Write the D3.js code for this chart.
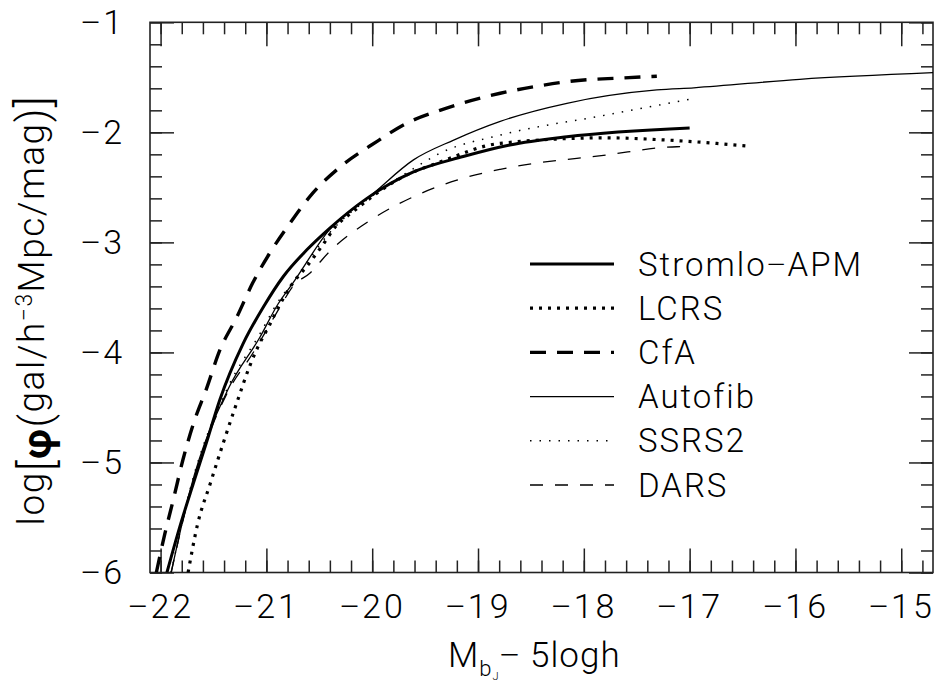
<!DOCTYPE html>
<html>
<head>
<meta charset="utf-8">
<script src="https://cdn.jsdelivr.net/npm/d3@7"></script>
<style>
  body { margin: 0; background: #fff; }
  svg text { font-family: Roboto, "DejaVu Sans", sans-serif; font-weight: 300; fill: #000; }
  .minus { font-family: "Open Sans", "Liberation Sans", sans-serif; font-weight: 300; }
</style>
</head>
<body>
<div id="chart"></div>
<script>
// luminosity functions: M_bJ - 5logh vs log phi
const stromloM   = [-21.94, -21.82, -21.69, -21.57, -21.44, -21.22, -21.03, -20.84, -20.62, -20.40, -20.05, -19.61, -19.14, -18.70, -18.16, -17.00];
const stromloPhi = [-6.00, -5.59, -5.19, -4.83, -4.43, -3.92, -3.59, -3.31, -3.07, -2.87, -2.60, -2.36, -2.22, -2.115, -2.04, -1.96];

const lcrsM   = [-21.74, -21.65, -21.53, -21.41, -21.27, -21.16, -21.08, -20.97, -20.87, -20.75, -20.62, -20.48, -20.34, -20.18, -19.74, -19.36, -18.79, -17.79, -17.22, -16.44];
const lcrsPhi = [-6.00, -5.56, -5.19, -4.83, -4.43, -4.13, -3.95, -3.75, -3.56, -3.37, -3.22, -3.04, -2.85, -2.72, -2.42, -2.27, -2.10, -2.05, -2.07, -2.125];

const cfaM   = [-22.04, -21.96, -21.88, -21.79, -21.68, -21.57, -21.44, -21.28, -21.13, -20.97, -20.78, -20.56, -20.31, -19.95, -19.68, -19.36, -18.79, -18.41, -18.13, -17.64, -17.31];
const cfaPhi = [-6.00, -5.65, -5.34, -4.98, -4.62, -4.34, -3.98, -3.68, -3.37, -3.10, -2.83, -2.55, -2.32, -2.08, -1.92, -1.80, -1.645, -1.576, -1.536, -1.506, -1.49];

const autofibM   = [-21.90, -21.72, -21.36, -21.06, -20.89, -20.75, -20.40, -19.99, -19.61, -19.23, -18.79, -18.16, -17.31, -16.96, -15.96, -14.70];
const autofibPhi = [-6.00, -5.25, -4.33, -3.86, -3.56, -3.37, -2.88, -2.555, -2.25, -2.07, -1.90, -1.736, -1.615, -1.595, -1.518, -1.458];

const ssrs2M   = [-21.90, -21.72, -21.36, -21.06, -20.89, -20.75, -20.40, -19.99, -19.61, -19.36, -18.79, -17.79, -17.00];
const ssrs2Phi = [-6.00, -5.24, -4.31, -3.83, -3.54, -3.36, -2.91, -2.57, -2.33, -2.19, -2.025, -1.843, -1.70];

const darsM   = [-21.90, -21.72, -21.36, -21.13, -21.00, -20.87, -20.75, -20.59, -20.40, -20.02, -19.61, -19.20, -18.79, -17.79, -17.12, -17.00];
const darsPhi = [-6.00, -5.27, -4.35, -4.01, -3.80, -3.585, -3.40, -3.28, -3.08, -2.80, -2.585, -2.434, -2.336, -2.206, -2.131, -2.13];

const seriesNames = ['Stromlo\u2212APM', 'LCRS', 'CfA', 'Autofib', 'SSRS2', 'DARS'];
const xTickLabels = [-22, -21, -20, -19, -18, -17, -16, -15];
const yTickLabels = [-6, -5, -4, -3, -2, -1];

const series = [
  { name: seriesNames[0], m: stromloM, phi: stromloPhi, width: 3, dash: null },
  { name: seriesNames[1], m: lcrsM, phi: lcrsPhi, width: 3.2, dash: '3,6' },
  { name: seriesNames[2], m: cfaM, phi: cfaPhi, width: 3.4, dash: '16,11' },
  { name: seriesNames[3], m: autofibM, phi: autofibPhi, width: 1.3, dash: null },
  { name: seriesNames[4], m: ssrs2M, phi: ssrs2Phi, width: 1.5, dash: '1.5,8' },
  { name: seriesNames[5], m: darsM, phi: darsPhi, width: 1.3, dash: '13,12' },
];

const W = 941, H = 682;
const plot = { left: 150, right: 933, top: 22.3, bottom: 572.5 };

const svg = d3.select('#chart').append('svg')
  .attr('width', W)
  .attr('height', H);

const x = d3.scaleLinear().domain([-22.1, -14.7]).range([plot.left, plot.right]);
const y = d3.scaleLinear().domain([-6, -1]).range([plot.bottom, plot.top]);

const xMinor = d3.range(0, 37).map(i => -22 + i * 0.2);
const yMinor = d3.range(0, 26).map(i => -6 + i * 0.2);

const tickColor = '#222';

// put a long minus sign in its own tspan (the thin font's minus is short)
function withMinus(sel, str) {
  str.split('\u2212').forEach((part, i) => {
    if (i > 0) sel.append('tspan').attr('class', 'minus').text('\u2212');
    if (part) sel.append('tspan').text(part);
  });
}

function ticks(axis, vals, size, transform) {
  const g = svg.append('g')
    .attr('transform', transform)
    .call(axis.tickValues(vals).tickSize(size).tickFormat(''));
  g.select('.domain').remove();
  g.selectAll('line').attr('stroke', tickColor).attr('stroke-width', 1.5);
  return g;
}

// inward ticks on all four sides
ticks(d3.axisBottom(x), xMinor, -12, `translate(0,${plot.bottom})`);
ticks(d3.axisBottom(x), xTickLabels, -24, `translate(0,${plot.bottom})`);
ticks(d3.axisTop(x), xMinor, -12, `translate(0,${plot.top})`);
ticks(d3.axisTop(x), xTickLabels, -24, `translate(0,${plot.top})`);
ticks(d3.axisLeft(y), yMinor, -12, `translate(${plot.left},0)`);
ticks(d3.axisLeft(y), yTickLabels, -24, `translate(${plot.left},0)`);
ticks(d3.axisRight(y), yMinor, -12, `translate(${plot.right},0)`);
ticks(d3.axisRight(y), yTickLabels, -24, `translate(${plot.right},0)`);

// tick labels
const fmt = d3.format('d');
const xLab = svg.append('g')
  .attr('transform', `translate(0,${plot.bottom})`)
  .call(d3.axisBottom(x).tickValues(xTickLabels).tickFormat(fmt).tickSize(0).tickPadding(21));
xLab.select('.domain').remove();

const yLab = svg.append('g')
  .attr('transform', `translate(${plot.left},0)`)
  .call(d3.axisLeft(y).tickValues(yTickLabels).tickFormat(fmt).tickSize(0).tickPadding(25));
yLab.select('.domain').remove();

svg.selectAll('.tick text')
  .attr('font-family', null)
  .attr('font-size', 34)
  .attr('letter-spacing', 3)
  .attr('fill', '#000')
  .each(function () {
    const t = d3.select(this);
    const str = t.text();
    t.text(null);
    withMinus(t, str);
  });

// frame
svg.append('rect')
  .attr('x', plot.left).attr('y', plot.top)
  .attr('width', plot.right - plot.left).attr('height', plot.bottom - plot.top)
  .attr('fill', 'none').attr('stroke', tickColor).attr('stroke-width', 1.6);

svg.append('clipPath').attr('id', 'clip')
  .append('rect')
  .attr('x', plot.left).attr('y', plot.top)
  .attr('width', plot.right - plot.left).attr('height', plot.bottom - plot.top);

const line = d3.line()
  .x(d => x(d[0]))
  .y(d => y(d[1]))
  .curve(d3.curveMonotoneX);

const curves = svg.append('g').attr('clip-path', 'url(#clip)');
series.forEach((s) => {
  curves.append('path')
    .datum(s.m.map((m, i) => [m, s.phi[i]]))
    .attr('fill', 'none')
    .attr('stroke', '#000')
    .attr('stroke-width', s.width)
    .attr('stroke-dasharray', s.dash)
    .attr('d', line);
});

// legend
const legend = svg.append('g');
series.forEach((s, i) => {
  const ly = 264 + i * 44.2;
  legend.append('line')
    .attr('x1', 530).attr('x2', 614)
    .attr('y1', ly).attr('y2', ly)
    .attr('stroke', '#000')
    .attr('stroke-width', s.width)
    .attr('stroke-dasharray', s.dash);
  const t = legend.append('text')
    .attr('x', 638).attr('y', ly)
    .attr('dy', '0.35em')
    .attr('font-size', 33)
    .attr('letter-spacing', 2);
  withMinus(t, s.name);
});

// axis titles
const xt = svg.append('text')
  .attr('x', 448).attr('y', 667)
  .attr('font-size', 35)
  .attr('letter-spacing', 1);
xt.append('tspan').text('M');
xt.append('tspan').attr('font-size', 22).attr('dy', 9).text('b');
xt.append('tspan').attr('font-size', 11).attr('dy', 4).text('J');
xt.append('tspan').attr('class', 'minus').attr('dy', -13).text('\u2212');
xt.append('tspan').text(' 5logh');

const yt = svg.append('text')
  .attr('transform', 'translate(44,310) rotate(-90)')
  .attr('text-anchor', 'middle')
  .attr('font-size', 37)
  .attr('letter-spacing', 1.5);
yt.append('tspan').text('log');
yt.append('tspan').attr('font-size', 46).attr('dy', 9).text('[');
yt.append('tspan').attr('font-size', 40).attr('font-weight', 700).attr('dy', -2).text('\u03c6');
yt.append('tspan').attr('font-size', 42).attr('dy', -1).text('(');
yt.append('tspan').attr('font-size', 37).attr('dy', -6).text('gal/h');
yt.append('tspan').attr('font-size', 23).attr('dy', -12).text('\u22123');
yt.append('tspan').attr('font-size', 37).attr('dy', 12).text('Mpc/mag');
yt.append('tspan').attr('font-size', 42).attr('dy', 3).text(')');
yt.append('tspan').attr('font-size', 46).attr('dy', 3).text(']');
</script>
</body>
</html>
